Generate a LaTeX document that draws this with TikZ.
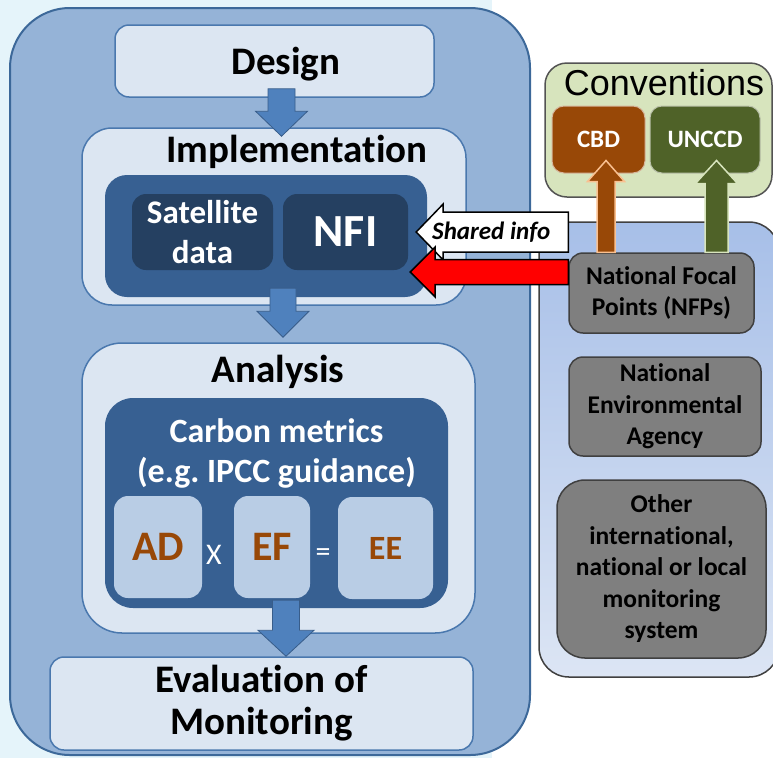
\documentclass[tikz,border=0pt]{standalone}
\usepackage{fontspec}
\setmainfont{Carlito}[Ligatures=NoCommon]
\newfontfamily\arialfont{Liberation Sans}
\usetikzlibrary{calc}
\frenchspacing
\definecolor{bgcyan}{HTML}{E5F4FA}
\definecolor{outerfill}{HTML}{95B3D7}
\definecolor{outerline}{HTML}{3C6899}
\definecolor{stagefill}{HTML}{DCE6F2}
\definecolor{stageline}{HTML}{4A78AE}
\definecolor{arrowfill}{HTML}{4F81BD}
\definecolor{arrowline}{HTML}{385D8A}
\definecolor{darkfill}{HTML}{376092}
\definecolor{deepfill}{HTML}{254061}
\definecolor{factorfill}{HTML}{B9CDE5}
\definecolor{brownfill}{HTML}{984807}
\definecolor{brownline}{HTML}{FAC090}
\definecolor{olivefill}{HTML}{4F6228}
\definecolor{oliveline}{HTML}{D7E4BD}
\definecolor{convfill}{HTML}{D7E4BD}
\definecolor{grayfill}{HTML}{7F7F7F}
\definecolor{grayline}{HTML}{404040}
\definecolor{paneltop}{HTML}{A7BFE8}
\definecolor{panelbottom}{HTML}{DCE5F4}
\tikzset{
  boxsize/.style 2 args={minimum width=#1pt,minimum height=#2pt,inner sep=0pt},
  outerbox/.style={draw=outerline,fill=outerfill,line width=2pt,rounded corners=60pt},
  stagebox/.style={draw=stageline,fill=stagefill,line width=1.5pt,rounded corners=14pt,
    align=center,font=\fontsize{39}{42}\selectfont\bfseries},
  stagetitle/.style={inner sep=0pt,font=\fontsize{39}{42}\selectfont\bfseries},
  darkbox/.style={fill=darkfill,rounded corners=22pt,text=white,align=center},
  deepbox/.style={fill=deepfill,rounded corners=14pt,text=white,align=center,
    font=\fontsize{33}{40}\selectfont\bfseries},
  factorbox/.style={fill=factorfill,rounded corners=14pt,text=brownfill,
    font=\fontsize{42}{42}\selectfont\bfseries},
  opsign/.style={inner sep=0pt,text=white,font=\fontsize{30}{30}\selectfont},
  convbox/.style={fill=#1,draw=white!60!#1,line width=1pt,rounded corners=12pt,text=white,
    font=\fontsize{25}{25}\selectfont\bfseries},
  graybox/.style={draw=grayline,fill=grayfill,line width=1.5pt,rounded corners=14pt,
    align=center,font=\fontsize{25.5}{31.5}\selectfont\bfseries,text=black},
  flowarrow/.style={fill=arrowfill,draw=arrowline,line width=0.8pt},
  sharearrow/.style={fill=white,draw=black,line width=1.5pt},
  redarrow/.style={fill=red,draw=black,line width=1.5pt},
  cbdarrow/.style={fill=brownfill,draw=brownline,line width=1.5pt},
  unccdarrow/.style={fill=olivefill,draw=oliveline,line width=1.5pt}
}
% fat arrow: [style]{start}{tip}{shaft half width}{head half width}{head length}
\newcommand{\blockarrow}[6][]{%
  \coordinate (ba-s) at #2;
  \coordinate (ba-t) at #3;
  \coordinate (ba-h) at ($(ba-t)!#6!(ba-s)$);
  \draw[#1] ($(ba-s)!#4!90:(ba-t)$) -- ($(ba-h)!#4!90:(ba-t)$) -- ($(ba-h)!#5!90:(ba-t)$)
    -- (ba-t) -- ($(ba-h)!#5!-90:(ba-t)$) -- ($(ba-h)!#4!-90:(ba-t)$)
    -- ($(ba-s)!#4!-90:(ba-t)$) -- cycle;
}
\begin{document}
\begin{tikzpicture}[x=1pt,y=-1pt]
  \useasboundingbox (0,0) rectangle (773,758);
  \clip (0,0) rectangle (773,758);
  \fill[bgcyan] (0,0) rectangle (492,758);

  % monitoring cycle
  \node[outerbox,boxsize={520}{747}] (outer) at (270,381.5) {};
  \node[stagebox,boxsize={319}{72}] (design) at (274.5,61) {};
  \node[stagetitle] (designtitle) at (286,64) {Design};
  \node[stagebox,boxsize={384}{177},rounded corners=30pt] (impl) at (274,216.5) {};
  \node[stagetitle] (impltitle) at (297,152) {Implementation};
  \node[darkbox,boxsize={322}{122}] (implin) at (266,236) {};
  \node[deepbox,boxsize={141}{76}] (sat) at (202.5,232) {Satellite\\data};
  \node[deepbox,boxsize={125}{76},font=\fontsize{46}{46}\selectfont\bfseries] (nfi) at (345.5,232) {NFI};

  \node[stagebox,boxsize={393}{290},rounded corners=40pt] (analysis) at (278.5,488) {};
  \node[stagetitle] (analysistitle) at (278,372) {Analysis};
  \node[darkbox,boxsize={343}{210},rounded corners=28pt] (carbon) at (276.5,503) {};
  \node[inner sep=0pt,text=white,align=center,font=\fontsize{34}{40}\selectfont\bfseries]
    (carbontitle) at (276.5,453) {Carbon metrics\\(e.g. IPCC guidance)};
  \node[factorbox,boxsize={88}{102}] (ad) at (158,547) {AD};
  \node[factorbox,boxsize={76}{102}] (ef) at (272,547) {EF};
  \node[factorbox,boxsize={95}{102},font=\fontsize{34}{34}\selectfont\bfseries] (ee) at (385.5,548) {EE};
  \node[opsign] (times) at (214,555) {X};
  \node[opsign] (equals) at (323,555) {=};

  \node[stagebox,boxsize={423}{93}] (eval) at (261.5,703.5) {Evaluation of\\Monitoring};

  \blockarrow[flowarrow]{($(design.south)+(7,-9)$)}{($(impl.north)+(7.5,9)$)}{13.5pt}{26pt}{25pt}
  \blockarrow[flowarrow]{($(implin.south)+(17,-9)$)}{($(analysis.north)+(4.5,-5)$)}{13pt}{26pt}{26pt}
  \blockarrow[flowarrow]{($(carbon.south)+(9.5,-8)$)}{($(eval.north)+(24.5,0)$)}{13.5pt}{28pt}{26pt}

  % conventions and national actors
  \node[draw=grayline!90,fill=convfill,line width=1.5pt,rounded corners=22pt,boxsize={227}{134}]
    (conv) at (658.5,130) {};
  \node[inner sep=0pt,font=\arialfont\fontsize{36}{36}\selectfont] (convtitle) at (664,83) {Conventions};
  \node[convbox=brownfill,boxsize={93}{67}] (cbd) at (598.5,139.5) {CBD};
  \node[convbox=olivefill,boxsize={110}{67}] (unccd) at (705,139.5) {UNCCD};

  \node[draw=grayline,line width=1.5pt,rounded corners=30pt,top color=paneltop,bottom color=panelbottom,
    boxsize={240}{455}] (panel) at (659,449.5) {};
  \node[graybox,boxsize={185}{80}] (nfp) at (661.5,293) {National Focal\\Points (NFPs)};
  \node[graybox,boxsize={192}{99}] (nea) at (665,406.5) {National\\Environmental\\Agency};
  \node[graybox,boxsize={209}{178},rounded corners=28pt] (other) at (661.5,569)
    {Other\\international,\\national or local\\monitoring\\system};

  \blockarrow[cbdarrow]{($(nfp.north)+(-55.5,0)$)}{($(cbd.south)+(7.5,-13)$)}{9pt}{18.5pt}{21pt}
  \blockarrow[unccdarrow]{($(nfp.north)+(55,0)$)}{($(unccd.south)+(11.5,-13)$)}{11.5pt}{21pt}{23pt}
  \blockarrow[sharearrow]{($(nfp.west)+(0,-61)$)}{($(nfi.east)+(8,0)$)}{20pt}{28pt}{27pt}
  \node[inner sep=0pt,font=\fontsize{25}{25}\selectfont\bfseries\itshape] (sharedlbl)
    at ($(nfp.west)+(-77,-61)$) {Shared info};
  \blockarrow[redarrow]{($(nfp.west)+(0,-21)$)}{($(implin.east)+(-17,36)$)}{12.5pt}{25pt}{25pt}
\end{tikzpicture}
\end{document}
